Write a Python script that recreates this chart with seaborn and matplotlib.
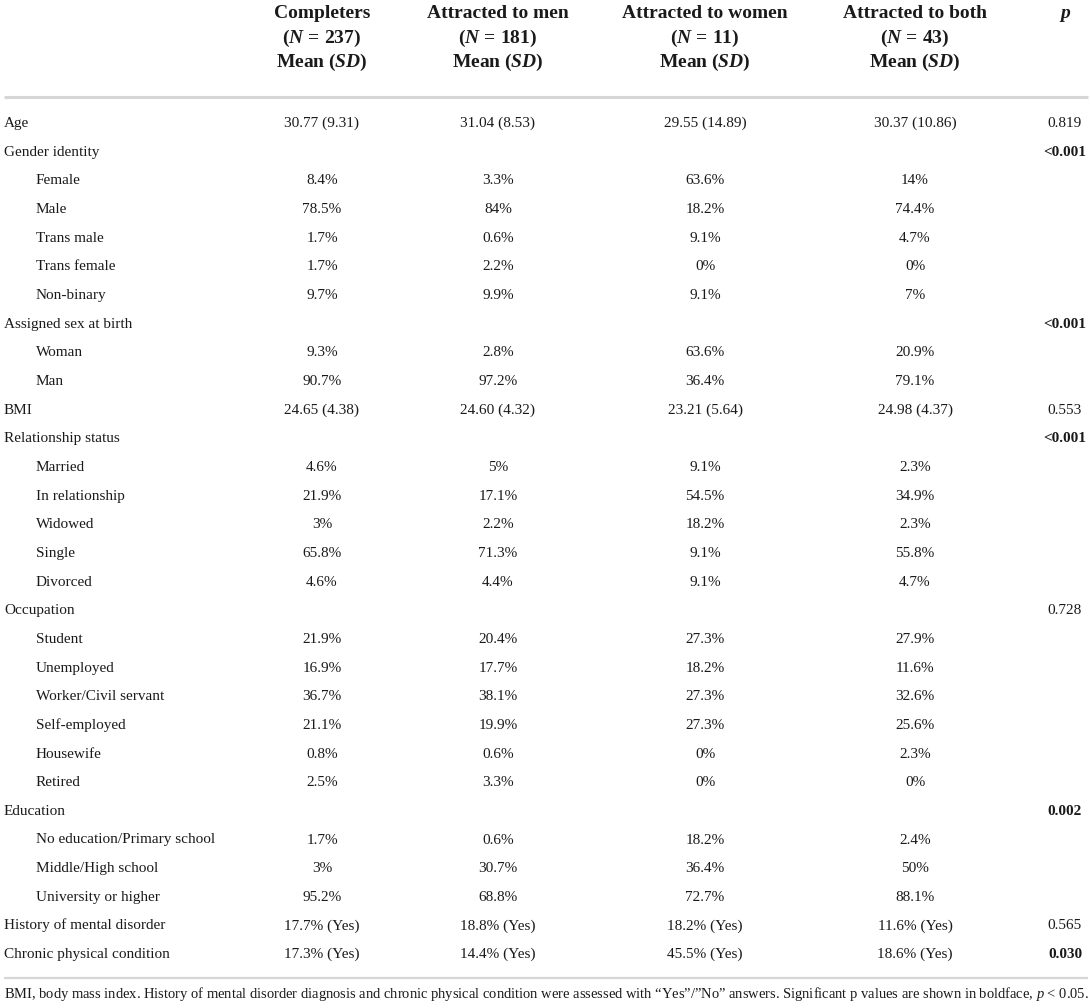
"""
Demographic table: completers vs. sexual attraction groups
"""
import matplotlib
matplotlib.use("Agg")
import matplotlib.pyplot as plt
import pandas as pd
import seaborn as sns

# ---- data ----
row_labels = [
    "Age", "Gender identity", "Female", "Male", "Trans male", "Trans female",
    "Non-binary", "Assigned sex at birth", "Woman", "Man", "BMI",
    "Relationship status", "Married", "In relationship", "Widowed", "Single",
    "Divorced", "Occupation", "Student", "Unemployed", "Worker/Civil servant",
    "Self-employed", "Housewife", "Retired", "Education",
    "No education/Primary school", "Middle/High school", "University or higher",
    "History of mental disorder", "Chronic physical condition",
]
indent = [0, 0, 1, 1, 1, 1, 1, 0, 1, 1, 0, 0, 1, 1, 1, 1, 1, 0,
          1, 1, 1, 1, 1, 1, 0, 1, 1, 1, 0, 0]

completers = ["30.77 (9.31)", "", "8.4%", "78.5%", "1.7%", "1.7%", "9.7%", "",
              "9.3%", "90.7%", "24.65 (4.38)", "", "4.6%", "21.9%", "3%",
              "65.8%", "4.6%", "", "21.9%", "16.9%", "36.7%", "21.1%", "0.8%",
              "2.5%", "", "1.7%", "3%", "95.2%", "17.7% (Yes)", "17.3% (Yes)"]
to_men = ["31.04 (8.53)", "", "3.3%", "84%", "0.6%", "2.2%", "9.9%", "",
          "2.8%", "97.2%", "24.60 (4.32)", "", "5%", "17.1%", "2.2%", "71.3%",
          "4.4%", "", "20.4%", "17.7%", "38.1%", "19.9%", "0.6%", "3.3%", "",
          "0.6%", "30.7%", "68.8%", "18.8% (Yes)", "14.4% (Yes)"]
to_women = ["29.55 (14.89)", "", "63.6%", "18.2%", "9.1%", "0%", "9.1%", "",
            "63.6%", "36.4%", "23.21 (5.64)", "", "9.1%", "54.5%", "18.2%",
            "9.1%", "9.1%", "", "27.3%", "18.2%", "27.3%", "27.3%", "0%", "0%",
            "", "18.2%", "36.4%", "72.7%", "18.2% (Yes)", "45.5% (Yes)"]
to_both = ["30.37 (10.86)", "", "14%", "74.4%", "4.7%", "0%", "7%", "",
           "20.9%", "79.1%", "24.98 (4.37)", "", "2.3%", "34.9%", "2.3%",
           "55.8%", "4.7%", "", "27.9%", "11.6%", "32.6%", "25.6%", "2.3%",
           "0%", "", "2.4%", "50%", "88.1%", "11.6% (Yes)", "18.6% (Yes)"]
p_values = ["0.819", "<0.001", "", "", "", "", "", "<0.001", "", "", "0.553",
            "<0.001", "", "", "", "", "", "0.728", "", "", "", "", "", "",
            "0.002", "", "", "", "0.565", "0.030"]

group_names = ["Completers", "Attracted to men", "Attracted to women",
               "Attracted to both"]
group_n = [237, 181, 11, 43]

footnote = ("BMI, body mass index. History of mental disorder diagnosis and "
            "chronic physical condition were assessed with \u201cYes\u201d/\u201dNo\u201d "
            "answers. Significant p values are shown in boldface, $\\mathit{p}$ < 0.05.")

table = pd.DataFrame({
    "label": row_labels,
    "indent": indent,
    "Completers": completers,
    "Attracted to men": to_men,
    "Attracted to women": to_women,
    "Attracted to both": to_both,
    "p": p_values,
})

# ---- style ----
sns.set_theme(style="white")
plt.rcParams["font.family"] = ["Liberation Serif", "DejaVu Serif"]
plt.rcParams["mathtext.fontset"] = "custom"
plt.rcParams["mathtext.rm"] = "Liberation Serif"
plt.rcParams["mathtext.it"] = "Liberation Serif:italic"
plt.rcParams["mathtext.bf"] = "Liberation Serif:bold"
plt.rcParams["mathtext.bfit"] = "Liberation Serif:italic:bold"

TXT = "#1a1a1a"
RULE = "#d6d6d6"
col_x = [322, 498, 705, 915, 1065]
label_x, indent_x = 4, 36
row_y0, row_step = 127, 28.66
body_size, head_size = 11, 14

fig = plt.figure(figsize=(10.92, 10.06), dpi=100)
ax = fig.add_axes([0, 0, 1, 1])
ax.set_xlim(0, 1092)
ax.set_ylim(1006, 0)
ax.axis("off")

# header
for x, name, n in zip(col_x, group_names, group_n):
    ax.text(x, 18, name, ha="center", va="baseline", fontsize=head_size,
            fontweight="bold", color=TXT)
    ax.text(x, 43, r"$\mathbf{(}\mathbfit{N}\,\mathbf{=}\,\mathbf{%d)}$" % n,
            ha="center", va="baseline", fontsize=head_size, color=TXT)
    ax.text(x, 67, r"$\mathbf{Mean\ (}\mathbfit{SD}\mathbf{)}$",
            ha="center", va="baseline", fontsize=head_size, color=TXT)
ax.text(col_x[4], 18, r"$\mathbfit{p}$", ha="center", va="baseline",
        fontsize=head_size, color=TXT)

ax.plot([4, 1088], [97, 97], color=RULE, lw=2.2, solid_capstyle="butt")

# body
value_cols = ["Completers", "Attracted to men", "Attracted to women",
              "Attracted to both"]
for i, row in table.iterrows():
    y = row_y0 + i * row_step
    x0 = indent_x if row["indent"] else label_x
    ax.text(x0, y, row["label"], ha="left", va="baseline",
            fontsize=body_size, color=TXT)
    for x, c in zip(col_x, value_cols):
        if row[c]:
            ax.text(x, y, row[c], ha="center", va="baseline",
                    fontsize=body_size, color=TXT)
    pv = row["p"]
    if pv:
        sig = pv.startswith("<") or float(pv) < 0.05
        ax.text(col_x[4], y, pv, ha="center", va="baseline",
                fontsize=body_size, color=TXT,
                fontweight="bold" if sig else "normal")

ax.plot([4, 1088], [978, 978], color=RULE, lw=1.6, solid_capstyle="butt")
ax.text(4, 998, footnote, ha="left", va="baseline", fontsize=10.45, color=TXT)

fig.savefig("out.png", dpi=100, facecolor="white")
